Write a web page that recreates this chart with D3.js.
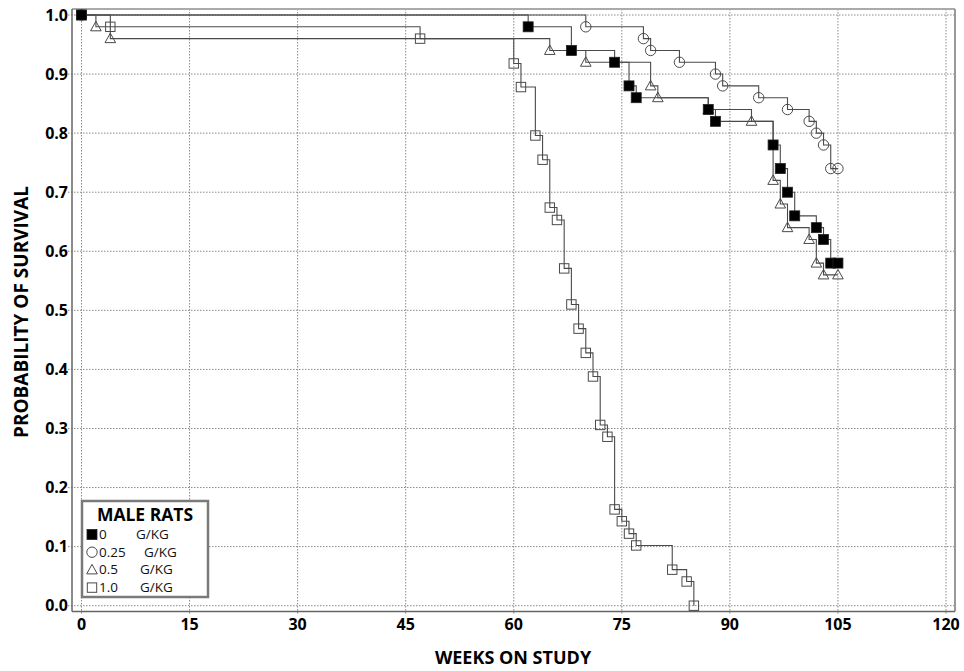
<!DOCTYPE html>
<html>
<head>
<meta charset="utf-8">
<script src="https://cdn.jsdelivr.net/npm/d3@7"></script>
<style>
  body { margin: 0; background: #fff; }
  svg { display: block; font-family: "Open Sans", sans-serif; }
</style>
</head>
<body>
<svg id="chart" width="964" height="671"></svg>
<script>
// Kaplan-Meier style steps: [week, survival] where a death (or the study end) is marked
const dose0 = [[0, 1.0], [62, 0.98], [68, 0.94], [74, 0.92], [76, 0.88], [77, 0.86], [87, 0.84], [88, 0.82],
  [96, 0.78], [97, 0.74], [98, 0.70], [99, 0.66], [102, 0.64], [103, 0.62], [104, 0.58], [105, 0.58]]
const dose025 = [[0, 1.0], [70, 0.98], [78, 0.96], [79, 0.94], [83, 0.92], [88, 0.90], [89, 0.88], [94, 0.86],
  [98, 0.84], [101, 0.82], [102, 0.80], [103, 0.78], [104, 0.74], [105, 0.74]]
const dose05 = [[0, 1.0], [2, 0.98], [4, 0.96], [65, 0.94], [70, 0.92], [79, 0.88], [80, 0.86], [87, 0.84],
  [93, 0.82], [96, 0.72], [97, 0.68], [98, 0.64], [101, 0.62], [102, 0.58], [103, 0.56], [105, 0.56]]
const dose10 = [[0, 1.0], [4, 0.98], [47, 0.96], [60, 0.918], [61, 0.878], [63, 0.796], [64, 0.755], [65, 0.674],
  [66, 0.653], [67, 0.571], [68, 0.51], [69, 0.469], [70, 0.428], [71, 0.388], [72, 0.306], [73, 0.286],
  [74, 0.163], [75, 0.143], [76, 0.122], [77, 0.102], [82, 0.061], [84, 0.041], [85, 0.0]]

const doseLabels = ["0", "0.25", "0.5", "1.0"]
const unitLabel = "G/KG"
const xTicks = [0, 15, 30, 45, 60, 75, 90, 105, 120]
const yTicks = [0, 0.1, 0.2, 0.3, 0.4, 0.5, 0.6, 0.7, 0.8, 0.9, 1.0]

const svg = d3.select("#chart")

const x = d3.scaleLinear().domain([0, 120]).range([81.5, 946])
const y = d3.scaleLinear().domain([0, 1]).range([605.7, 15])

const frame = {left: 72, right: 955, top: 9, bottom: 611.5}

// grid
const grid = svg.append("g")
grid.selectAll("line.gx").data(xTicks).join("line")
  .attr("x1", d => x(d)).attr("x2", d => x(d))
  .attr("y1", frame.top).attr("y2", frame.bottom + 3)
grid.selectAll("line.gy").data(yTicks).join("line")
  .attr("x1", frame.left - 4).attr("x2", frame.right)
  .attr("y1", d => y(d)).attr("y2", d => y(d))
grid.selectAll("line")
  .attr("stroke", "#8a8a8a")
  .attr("stroke-width", 1)
  .attr("stroke-dasharray", "1.5,1.5")

// frame
svg.append("line").attr("x1", frame.left).attr("x2", frame.right)
  .attr("y1", frame.top).attr("y2", frame.top).attr("stroke", "#aaa").attr("stroke-width", 2)
svg.append("line").attr("x1", frame.right).attr("x2", frame.right)
  .attr("y1", frame.top).attr("y2", frame.bottom).attr("stroke", "#999").attr("stroke-width", 2)
svg.append("line").attr("x1", frame.left).attr("x2", frame.left)
  .attr("y1", frame.top).attr("y2", frame.bottom).attr("stroke", "#666").attr("stroke-width", 1.5)
svg.append("line").attr("x1", frame.left).attr("x2", frame.right)
  .attr("y1", frame.bottom).attr("y2", frame.bottom).attr("stroke", "#666").attr("stroke-width", 1.5)

// tick labels
svg.append("g").selectAll("text").data(xTicks).join("text")
  .attr("x", d => x(d)).attr("y", 630)
  .attr("text-anchor", "middle")
  .attr("font-size", 16).attr("font-weight", 700)
  .text(d => d)
svg.append("g").selectAll("text").data(yTicks).join("text")
  .attr("x", 68).attr("y", d => y(d) + 5.5)
  .attr("text-anchor", "end")
  .attr("font-size", 16).attr("font-weight", 700)
  .text(d => d.toFixed(1))

// axis titles
svg.append("text")
  .attr("x", 513).attr("y", 664)
  .attr("text-anchor", "middle")
  .attr("font-size", 18).attr("font-weight", 700)
  .text("WEEKS ON STUDY")
svg.append("text")
  .attr("transform", "translate(28,312) rotate(-90)")
  .attr("text-anchor", "middle")
  .attr("font-size", 19).attr("font-weight", 700)
  .text("PROBABILITY OF SURVIVAL")

// series
const stepLine = d3.line()
  .x(d => x(d[0]))
  .y(d => y(d[1]))
  .curve(d3.curveStepAfter)

const lineColor = "#4a4a4a"
const markColor = "#4a4a4a"

function drawMarker(g, type, cx, cy) {
  if (type === "filled") {
    g.append("rect").attr("x", cx - 5).attr("y", cy - 5).attr("width", 10).attr("height", 10)
      .attr("fill", "#000").attr("stroke", "#222").attr("stroke-width", 0.8)
  } else if (type === "circle") {
    g.append("circle").attr("cx", cx).attr("cy", cy).attr("r", 5.2)
      .attr("fill", "none").attr("stroke", markColor).attr("stroke-width", 1)
  } else if (type === "triangle") {
    g.append("path")
      .attr("d", `M${cx} ${cy - 5.5} L${cx + 5.3} ${cy + 4} L${cx - 5.3} ${cy + 4} Z`)
      .attr("fill", "none").attr("stroke", markColor).attr("stroke-width", 1)
  } else {
    g.append("rect").attr("x", cx - 4.7).attr("y", cy - 4.7).attr("width", 9.4).attr("height", 9.4)
      .attr("fill", "none").attr("stroke", markColor).attr("stroke-width", 1)
  }
}

const series = [
  {data: dose10, type: "square"},
  {data: dose05, type: "triangle"},
  {data: dose025, type: "circle"},
  {data: dose0, type: "filled"}
]

series.forEach(s => {
  svg.append("path")
    .datum(s.data)
    .attr("d", stepLine)
    .attr("fill", "none")
    .attr("stroke", lineColor)
    .attr("stroke-width", 1.1)
})
series.forEach(s => {
  const g = svg.append("g")
  s.data.forEach(d => drawMarker(g, s.type, x(d[0]), y(d[1])))
})

// legend
const legend = svg.append("g")
legend.append("rect")
  .attr("x", 82).attr("y", 501).attr("width", 126).attr("height", 96)
  .attr("fill", "#fff").attr("stroke", "#7a7a7a").attr("stroke-width", 2.5)
legend.append("text")
  .attr("x", 145).attr("y", 520.5)
  .attr("text-anchor", "middle")
  .attr("font-size", 17.5).attr("font-weight", 700)
  .text("MALE RATS")

const legendTypes = ["filled", "circle", "triangle", "square"]
const unitX = [136, 144, 140, 140]
doseLabels.forEach((lab, i) => {
  const baseY = 539 + i * 17.7
  drawMarker(legend, legendTypes[i], 92, baseY - 4.5)
  legend.append("text").attr("x", 99).attr("y", baseY)
    .attr("font-size", 13.5).attr("fill", "#111").text(lab)
  legend.append("text").attr("x", unitX[i]).attr("y", baseY)
    .attr("font-size", 13.5).attr("fill", "#111").text(unitLabel)
})
</script>
</body>
</html>
